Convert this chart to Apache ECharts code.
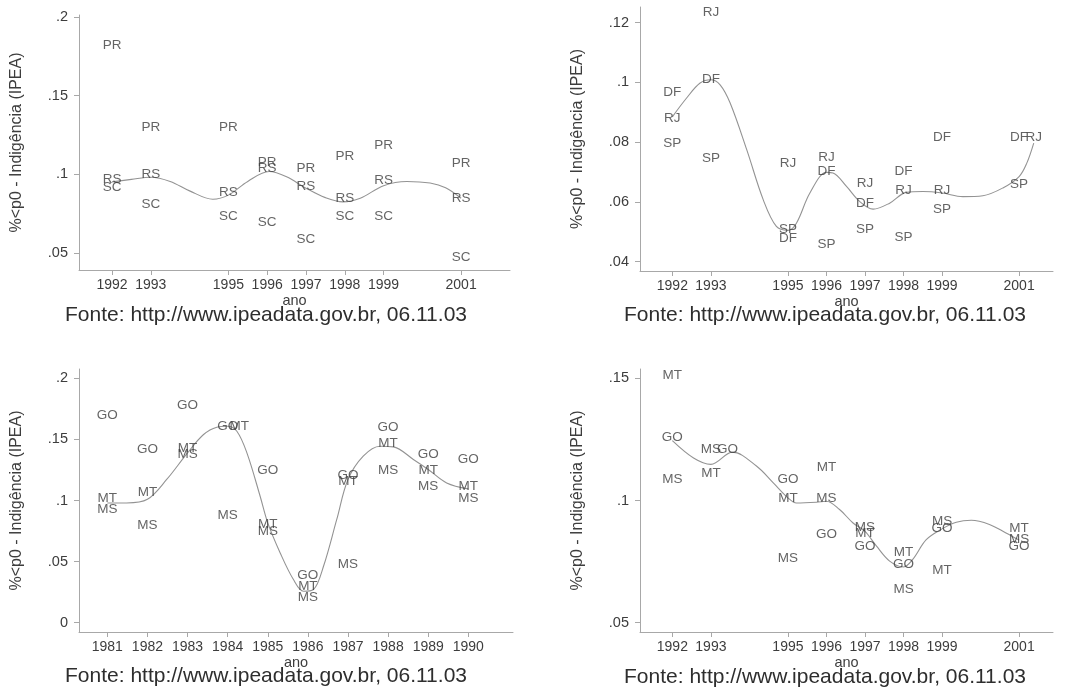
<!DOCTYPE html>
<html>
<head>
<meta charset="utf-8">
<script src="https://cdn.jsdelivr.net/npm/echarts@6/dist/echarts.min.js"></script>
<style>
html, body { margin: 0; background: #fff; }
#chart { width: 1085px; height: 692px; }
</style>
</head>
<body>
<div id="chart"></div>
<script>
// anos (eixo x)
var years90 = [1992, 1993, 1995, 1996, 1997, 1998, 1999, 2001];
var years80 = [1981, 1982, 1983, 1984, 1985, 1986, 1987, 1988, 1989, 1990];
var ticks90 = [1992, 1993, 1995, 1996, 1997, 1998, 1999, 2001];
var ticks80 = [1981, 1982, 1983, 1984, 1985, 1986, 1987, 1988, 1989, 1990];

// painel 1 - Sul
var pr1 = [0.182, 0.1297, 0.1297, 0.1074, 0.1036, 0.1115, 0.1185, 0.1068];
var rs1 = [0.0968, 0.100, 0.0883, 0.1036, 0.0926, 0.0849, 0.0962, 0.0847];
var sc1 = [0.0919, 0.0809, 0.0735, 0.0696, 0.0586, 0.0735, 0.0735, 0.0473];
var curve1 = [[1992, 0.0952], [1992.5, 0.0968], [1993, 0.0982], [1993.5, 0.0955], [1994, 0.0895],
  [1994.6, 0.0842], [1995, 0.0868], [1995.5, 0.0955], [1996.05, 0.1018], [1996.5, 0.0985],
  [1997, 0.0912], [1997.5, 0.0852], [1997.95, 0.0825], [1998.4, 0.0848], [1999, 0.0928],
  [1999.6, 0.0955], [2000.2, 0.0945], [2000.6, 0.0915], [2001, 0.0848]];

// painel 2 - DF, RJ, SP
var df2 = [0.0968, 0.1012, 0.0479, 0.0702, 0.0596, 0.0702, 0.0816, 0.0816];
var rj2 = [0.0881, 0.1236, 0.0728, 0.0749, 0.0661, 0.0638, 0.0638, 0.0816];
var rjYears2 = [1992, 1993, 1995, 1996, 1997, 1998, 1999, 2001.38];
var sp2 = [0.0795, 0.0747, 0.0509, 0.046, 0.0507, 0.0482, 0.0574, 0.066];
var curve2 = [[1992, 0.0885], [1992.37, 0.0948], [1992.72, 0.0998], [1993, 0.1009], [1993.24, 0.0992],
  [1993.5, 0.0931], [1993.93, 0.0775], [1994.36, 0.0607], [1994.7, 0.0518], [1995, 0.0505],
  [1995.22, 0.0529], [1995.57, 0.063], [1996, 0.0699], [1996.17, 0.0697], [1996.52, 0.0652],
  [1996.86, 0.0602], [1997.21, 0.0576], [1997.64, 0.0596], [1998.07, 0.0632], [1998.5, 0.0635],
  [1999, 0.063], [1999.54, 0.0618], [2000.06, 0.0621], [2000.58, 0.0647], [2001, 0.0685],
  [2001.2, 0.073], [2001.38, 0.0797]];

// painel 3 - Centro-Oeste, anos 80
var go3 = [0.1696, 0.1422, 0.178, 0.1608, 0.1248, 0.0389, 0.1205, 0.1603, 0.1381, 0.1336];
var mt3 = [0.1021, 0.107, 0.143, 0.1608, 0.0809, 0.0299, 0.1158, 0.1471, 0.1248, 0.1117];
var mtYears3 = [1981, 1982, 1983, 1984.29, 1985, 1986, 1987, 1988, 1989, 1990];
var ms3 = [0.0926, 0.0795, 0.1376, 0.088, 0.0749, 0.0211, 0.0481, 0.1248, 0.1117, 0.1016];
var curve3 = [[1981, 0.098], [1981.48, 0.098], [1982, 0.101], [1982.48, 0.1172], [1983, 0.139],
  [1983.4, 0.154], [1983.73, 0.16], [1984, 0.1608], [1984.23, 0.1567], [1984.48, 0.139],
  [1984.81, 0.1035], [1985, 0.0817], [1985.31, 0.0571], [1985.64, 0.0353], [1985.89, 0.0258],
  [1986.14, 0.0272], [1986.39, 0.0462], [1986.72, 0.0845], [1987, 0.1172], [1987.38, 0.1363],
  [1987.8, 0.1444], [1988.13, 0.1439], [1988.63, 0.1336], [1989, 0.1254], [1989.46, 0.1144],
  [1990, 0.1095]];

// painel 4 - Centro-Oeste, anos 90
var mt4 = [0.1511, 0.1113, 0.1011, 0.1137, 0.0865, 0.079, 0.0714, 0.0888];
var go4 = [0.126, 0.1211, 0.1086, 0.0863, 0.0813, 0.0738, 0.0885, 0.0813];
var goYears4 = [1992, 1993.43, 1995, 1996, 1997, 1998, 1999, 2001];
var ms4 = [0.1086, 0.1211, 0.0763, 0.1011, 0.0891, 0.0638, 0.0915, 0.0843];
var curve4 = [[1992, 0.1245], [1992.55, 0.1174], [1993, 0.1148], [1993.56, 0.1198], [1994.19, 0.114],
  [1994.62, 0.1072], [1995, 0.1011], [1995.22, 0.099], [1995.74, 0.0993], [1996, 0.0997],
  [1996.34, 0.0963], [1996.69, 0.0908], [1997, 0.0874], [1997.3, 0.0813], [1997.64, 0.0752],
  [1998, 0.0728], [1998.24, 0.0759], [1998.59, 0.084], [1999, 0.0884], [1999.37, 0.0911],
  [1999.76, 0.0919], [2000.23, 0.0902], [2000.66, 0.0867], [2001, 0.0838]];

var yTicks1 = [0.05, 0.1, 0.15, 0.2];
var yTicks2 = [0.04, 0.06, 0.08, 0.1, 0.12];
var yTicks3 = [0, 0.05, 0.1, 0.15, 0.2];
var yTicks4 = [0.05, 0.1, 0.15];

var yTitle = '%<p0 - Indigência (IPEA)';
var xTitle = 'ano';
var fonte = 'Fonte: http://www.ipeadata.gov.br, 06.11.03';

var fontFam = '"Liberation Sans", Arial, sans-serif';
var txtColor = '#3d3d3d';
var axisColor = '#a8a8a8';

function zip(xs, ys) {
  return ys.map(function (y, i) { return [xs[i], y]; });
}

var panels = [
  { grid: { left: 79, top: 15, width: 431, height: 255 }, x: [1991.149, 2002.26], y: [0.0392, 0.2013],
    xt: ticks90, yt: yTicks1, curve: curve1, fonte: [266, 315],
    labels: [['PR', years90, pr1], ['RS', years90, rs1], ['SC', years90, sc1]] },
  { grid: { left: 640, top: 7, width: 413, height: 264 }, x: [1991.16, 2001.88], y: [0.03689, 0.12526],
    xt: ticks90, yt: yTicks2, curve: curve2, fonte: [825, 315],
    labels: [['DF', years90, df2], ['RJ', rjYears2, rj2], ['SP', years90, sp2]] },
  { grid: { left: 79, top: 369, width: 434, height: 263 }, x: [1980.294, 1991.114], y: [-0.0076, 0.2076],
    xt: ticks80, yt: yTicks3, curve: curve3, fonte: [266, 676],
    labels: [['GO', years80, go3], ['MT', mtYears3, mt3], ['MS', years80, ms3]] },
  { grid: { left: 640, top: 369, width: 413, height: 263 }, x: [1991.16, 2001.88], y: [0.0462, 0.1538],
    xt: ticks90, yt: yTicks4, curve: curve4, fonte: [825, 677],
    labels: [['MT', years90, mt4], ['GO', goYears4, go4], ['MS', years90, ms4]] }
];

var grids = [], xAxes = [], yAxes = [], series = [], graphics = [];

panels.forEach(function (p, i) {
  grids.push(p.grid);
  xAxes.push({
    type: 'value', gridIndex: i, min: p.x[0], max: p.x[1],
    name: xTitle, nameLocation: 'middle', nameGap: 23,
    nameTextStyle: { color: txtColor, fontSize: 14.5, fontFamily: fontFam },
    axisLine: { show: true, onZero: false, lineStyle: { color: axisColor, width: 1 } },
    axisTick: { show: true, length: 5, customValues: p.xt, lineStyle: { color: axisColor } },
    axisLabel: {
      customValues: p.xt, margin: 8, color: txtColor, fontSize: 14, fontFamily: fontFam,
      formatter: function (v) { return String(Math.round(v)); }
    },
    splitLine: { show: false }
  });
  yAxes.push({
    type: 'value', gridIndex: i, min: p.y[0], max: p.y[1],
    name: yTitle, nameLocation: 'middle', nameGap: 54, nameRotate: 90,
    nameTextStyle: { color: txtColor, fontSize: 16, fontFamily: fontFam },
    axisLine: { show: true, onZero: false, lineStyle: { color: axisColor, width: 1 } },
    axisTick: { show: true, length: 5, customValues: p.yt, lineStyle: { color: axisColor } },
    axisLabel: {
      customValues: p.yt, margin: 11, color: txtColor, fontSize: 14.5, fontFamily: fontFam,
      formatter: function (v) {
        if (Math.abs(v) < 1e-9) return '0';
        return String(Math.round(v * 1000) / 1000).replace(/^0\./, '.');
      }
    },
    splitLine: { show: false }
  });
  series.push({
    type: 'line', xAxisIndex: i, yAxisIndex: i, data: p.curve,
    smooth: 0.35, showSymbol: false, symbol: 'none', silent: true,
    lineStyle: { color: '#939393', width: 1.1 }, z: 1
  });
  p.labels.forEach(function (l) {
    series.push({
      type: 'scatter', name: l[0], xAxisIndex: i, yAxisIndex: i,
      data: zip(l[1], l[2]), symbolSize: 1, itemStyle: { color: 'rgba(0,0,0,0)' }, silent: true, z: 2,
      label: {
        show: true, position: 'inside', formatter: '{a}',
        color: txtColor, fontSize: 13.5, fontFamily: fontFam
      },
      labelLayout: { hideOverlap: false }
    });
  });
  graphics.push({
    type: 'text', x: p.fonte[0], y: p.fonte[1], silent: true,
    style: {
      text: fonte, fill: '#2e2e2e', fontSize: 21, fontFamily: fontFam,
      align: 'center', verticalAlign: 'middle', textAlign: 'center', textVerticalAlign: 'middle'
    }
  });
});

var myChart = echarts.init(document.getElementById('chart'));
myChart.setOption({
  animation: false,
  backgroundColor: '#fff',
  textStyle: { fontFamily: fontFam },
  grid: grids,
  xAxis: xAxes,
  yAxis: yAxes,
  series: series,
  graphic: graphics
});
</script>
</body>
</html>
